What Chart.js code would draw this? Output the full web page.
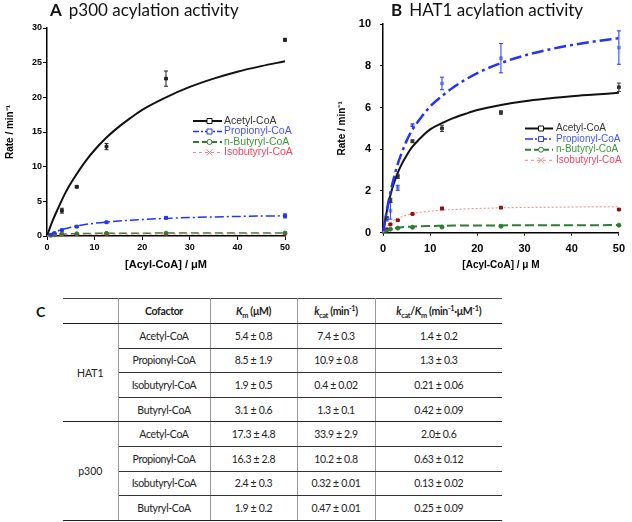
<!DOCTYPE html>
<html>
<head>
<meta charset="utf-8">
<script src="https://cdn.jsdelivr.net/npm/chart.js@4.4.0/dist/chart.umd.min.js"></script>
<style>
  html, body { margin: 0; padding: 0; background: #fff; }
  #page { position: relative; width: 632px; height: 522px; overflow: hidden; background: #fff; }
  canvas { position: absolute; top: 0; }
  .ptitle { position: absolute; top: 0; font-family: Lato, "Open Sans", sans-serif; font-size: 17px; line-height: 20px; color: #111; white-space: nowrap; }
  .ptitle b { margin-right: 7px; }
  #labelC { position: absolute; left: 36px; top: 303px; font-family: Lato, sans-serif; font-weight: bold; font-size: 14px; color: #111; }
  #tbl { position: absolute; left: 63px; top: 298px; width: 439px; border-collapse: collapse; font-family: Lato, "Open Sans", sans-serif; font-size: 10.5px; letter-spacing: -0.35px; color: #222; table-layout: fixed; }
  #tbl td, #tbl th { text-align: center; padding: 0; border-right: 1px solid #999; white-space: nowrap; }
  #tbl td:last-child, #tbl th:last-child { border-right: none; }
  #tbl th { height: 24px; font-weight: bold; border-top: 1.5px solid #444; border-bottom: 1.5px solid #222; }
  #tbl td { height: 23.6px; border-bottom: 1px solid #333; }
  #tbl td.grp { border-bottom: 1.5px solid #222; letter-spacing: 0; }
  #tbl tr.glast td { border-bottom: 1.5px solid #222; }
  sub, sup { font-size: 70%; line-height: 0; }
</style>
</head>
<body>
<div id="page">
  <canvas id="chartA" width="316" height="290" style="left:0"></canvas>
  <canvas id="chartB" width="316" height="290" style="left:316px"></canvas>
  <div class="ptitle" style="left:50px"><b>A</b>p300 acylation activity</div>
  <div class="ptitle" style="left:391px"><b>B</b>HAT1 acylation activity</div>
  <div id="labelC">C</div>
  <table id="tbl"></table>
</div>
<script>
// ---------------- data ----------------
const seriesNames = ['Acetyl-CoA', 'Propionyl-CoA', 'n-Butyryl-CoA', 'Isobutyryl-CoA'];
const xTicks = [0, 10, 20, 30, 40, 50];
const yTicksA = [0, 5, 10, 15, 20, 25, 30];
const yTicksB = [0, 2, 4, 6, 8, 10];

// measured concentrations (µM)
const conc = [0.78, 1.56, 3.125, 6.25, 12.5, 25, 50];
// concentrations along the fitted curves (µM)
const fitConc = [0, 1, 2, 3, 4, 5, 6, 8, 10, 12.5, 15, 17.5, 20, 25, 30, 35, 40, 45, 50];

// Panel A: p300
const p300AcetylRate      = [null, null, 3.65, 7.1, 12.9, 22.7, 28.3];
const p300AcetylErr       = [0, 0, 0.35, 0.15, 0.45, 1.1, 0.2];
const p300PropionylRate   = [0.15, 0.4, 0.85, 1.35, 1.98, 2.62, 2.9];
const p300PropionylErr    = [0.05, 0.05, 0.1, 0.1, 0.12, 0.15, 0.3];
const p300ButyrylRate     = [0.1, 0.18, 0.28, 0.32, 0.38, 0.4, 0.42];
const p300ButyrylErr      = [0.02, 0.02, 0.03, 0.03, 0.03, 0.03, 0.05];
const p300IsobutyrylRate  = [0.08, 0.14, 0.2, 0.24, 0.26, 0.28, 0.3];
const p300IsobutyrylErr   = [0.02, 0.02, 0.02, 0.02, 0.02, 0.02, 0.02];

const p300AcetylFit     = [0, 1.9, 3.5, 5.0, 6.4, 7.6, 8.7, 10.7, 12.4, 14.2, 15.7, 17.0, 18.2, 20.0, 21.5, 22.7, 23.7, 24.5, 25.2];
const p300PropionylFit  = [0, 0.36, 0.65, 0.89, 1.09, 1.26, 1.41, 1.66, 1.84, 2.02, 2.16, 2.28, 2.38, 2.54, 2.66, 2.75, 2.82, 2.88, 2.91];
const p300ButyrylFit    = [0, 0.15, 0.23, 0.27, 0.3, 0.32, 0.34, 0.36, 0.38, 0.39, 0.4, 0.41, 0.41, 0.42, 0.42, 0.43, 0.43, 0.43, 0.43];
const p300IsobutyrylFit = [0, 0.09, 0.15, 0.18, 0.2, 0.22, 0.23, 0.25, 0.26, 0.27, 0.28, 0.28, 0.29, 0.29, 0.3, 0.3, 0.3, 0.31, 0.31];

// Panel B: HAT1
const hat1AcetylRate     = [0.7, 1.55, 2.7, 4.38, 5.0, 5.76, 6.97];
const hat1AcetylErr      = [0.05, 0.1, 0.1, 0.06, 0.15, 0.08, 0.2];
const hat1PropionylRate  = [0.66, 1.05, 2.15, 5.15, 7.15, 8.36, 8.87];
const hat1PropionylErr   = [0.1, 0.4, 0.12, 0.06, 0.3, 0.7, 0.8];
const hat1ButyrylRate    = [0.12, 0.17, 0.22, 0.26, 0.27, 0.31, 0.36];
const hat1ButyrylErr     = [0.02, 0.02, 0.02, 0.02, 0.02, 0.02, 0.02];
const hat1IsobutyrylRate = [0.16, 0.4, 0.6, 0.9, 1.16, 1.2, 1.11];
const hat1IsobutyrylErr  = [0.03, 0.03, 0.03, 0.03, 0.06, 0.03, 0.03];

const hat1AcetylFit     = [0, 1.25, 2.15, 2.8, 3.3, 3.7, 4.05, 4.55, 4.95, 5.25, 5.5, 5.7, 5.88, 6.12, 6.3, 6.43, 6.54, 6.62, 6.7];
const hat1PropionylFit  = [0, 1.3, 2.35, 3.2, 3.85, 4.4, 4.85, 5.5, 6.05, 6.55, 6.98, 7.34, 7.65, 8.13, 8.49, 8.77, 8.99, 9.17, 9.32];
const hat1ButyrylFit    = [0, 0.13, 0.19, 0.23, 0.26, 0.28, 0.29, 0.31, 0.32, 0.33, 0.34, 0.34, 0.35, 0.35, 0.36, 0.36, 0.36, 0.36, 0.37];
const hat1IsobutyrylFit = [0, 0.35, 0.55, 0.68, 0.77, 0.84, 0.9, 0.98, 1.03, 1.08, 1.11, 1.14, 1.16, 1.19, 1.21, 1.22, 1.23, 1.24, 1.24];

// Panel C: kinetic table
const enzymes   = ['HAT1', 'p300'];
const cofactors = ['Acetyl-CoA', 'Propionyl-CoA', 'Isobutyryl-CoA', 'Butyryl-CoA'];
const kmHAT1    = ['5.4 ± 0.8', '8.5 ± 1.9', '1.9 ± 0.5', '3.1 ± 0.6'];
const kcatHAT1  = ['7.4 ± 0.3', '10.9 ± 0.8', '0.4 ± 0.02', '1.3 ± 0.1'];
const effHAT1   = ['1.4 ± 0.2', '1.3 ± 0.3', '0.21 ± 0.06', '0.42 ± 0.09'];
const kmP300    = ['17.3 ± 4.8', '16.3 ± 2.8', '2.4 ± 0.3', '1.9 ± 0.2'];
const kcatP300  = ['33.9 ± 2.9', '10.2 ± 0.8', '0.32 ± 0.01', '0.47 ± 0.01'];
const effP300   = ['2.0± 0.6', '0.63 ± 0.12', '0.13 ± 0.02', '0.25 ± 0.09'];

// ---------------- helpers ----------------
function pts(xs, ys) {
  const out = [];
  xs.forEach((x, i) => { if (ys[i] !== null) out.push({ x: x, y: ys[i] }); });
  return out;
}
function errs(ys, es) {
  const out = [];
  ys.forEach((y, i) => { if (y !== null) out.push(es[i]); });
  return out;
}

const errorBarPlugin = {
  id: 'errorBars',
  afterDatasetsDraw(chart) {
    const ctx = chart.ctx, xs = chart.scales.x, ys = chart.scales.y;
    chart.data.datasets.forEach(ds => {
      if (!ds.errors) return;
      ctx.save();
      ctx.strokeStyle = ds.errorColor;
      ctx.lineWidth = ds.errorWidth || 1;
      ds.data.forEach((p, i) => {
        const e = ds.errors[i];
        if (!e) return;
        const px = xs.getPixelForValue(p.x);
        const t = ys.getPixelForValue(p.y + e), b = ys.getPixelForValue(p.y - e);
        ctx.beginPath();
        ctx.moveTo(px, t); ctx.lineTo(px, b);
        ctx.moveTo(px - 2, t); ctx.lineTo(px + 2, t);
        ctx.moveTo(px - 2, b); ctx.lineTo(px + 2, b);
        ctx.stroke();
      });
      ctx.restore();
    });
  }
};

function drawMarker(ctx, kind, x, y, color) {
  ctx.save();
  ctx.strokeStyle = color; ctx.lineWidth = 1; ctx.setLineDash([]);
  ctx.fillStyle = '#fff';
  ctx.beginPath();
  if (kind === 'rect') { ctx.rect(x - 2.5, y - 2.5, 5, 5); ctx.fill(); ctx.stroke(); }
  else if (kind === 'circle') { ctx.arc(x, y, 2.5, 0, Math.PI * 2); ctx.fill(); ctx.stroke(); }
  else if (kind === 'cross') { ctx.moveTo(x - 3, y - 3); ctx.lineTo(x + 3, y + 3); ctx.moveTo(x + 3, y - 3); ctx.lineTo(x - 3, y + 3); ctx.stroke(); }
  ctx.restore();
}

const legendPlugin = {
  id: 'panelLegend',
  afterDraw(chart, args, o) {
    const ctx = chart.ctx;
    ctx.save();
    o.items.forEach((it, i) => {
      const y = o.y0 + i * o.dy;
      ctx.strokeStyle = it.color; ctx.lineWidth = it.width; ctx.setLineDash(it.dash);
      ctx.beginPath(); ctx.moveTo(o.x0, y); ctx.lineTo(o.x1, y); ctx.stroke();
      ctx.setLineDash([]);
      drawMarker(ctx, it.marker, (o.x0 + o.x1) / 2 + 2, y, it.color);
      ctx.fillStyle = it.text; ctx.font = o.font; ctx.textBaseline = 'middle'; ctx.textAlign = 'left';
      ctx.fillText(seriesNames[i], o.tx, y);
    });
    ctx.restore();
  }
};

function pointSet(xs, ys, es, color, style, errColor) {
  return {
    data: pts(xs, ys), errors: errs(ys, es), errorColor: errColor || color,
    showLine: false, pointStyle: style, pointRadius: 2, pointBorderWidth: 1,
    pointBorderColor: color, pointBackgroundColor: color, clip: false
  };
}
function fitSet(ys, color, width, dash) {
  return {
    data: pts(fitConc, ys), showLine: true, pointRadius: 0, borderColor: color,
    borderWidth: width, borderDash: dash, tension: 0.4, cubicInterpolationMode: 'monotone', fill: false, clip: false
  };
}

function makeChart(id, cfg) {
  const tickFontX = { family: '"Liberation Sans", Arial, sans-serif', size: cfg.tickSize, weight: 'bold' };
  return new Chart(document.getElementById(id), {
    type: 'scatter',
    data: { datasets: cfg.datasets },
    plugins: [errorBarPlugin, legendPlugin],
    options: {
      responsive: false, animation: false, devicePixelRatio: 1,
      layout: { padding: cfg.padding },
      plugins: { legend: { display: false }, tooltip: { enabled: false }, panelLegend: cfg.legend },
      scales: {
        x: {
          type: 'linear', min: 0, max: 50,
          afterBuildTicks: s => { s.ticks = xTicks.map(v => ({ value: v })); },
          afterFit: s => { s.height = cfg.xHeight; },
          ticks: { font: tickFontX, color: '#000', padding: cfg.xPad, maxRotation: 0 },
          grid: { drawOnChartArea: false, drawTicks: true, tickLength: cfg.tickLen, color: '#000', lineWidth: 1 },
          border: { display: true, color: '#000', width: 1.5 },
          title: { display: true, text: cfg.xTitle, color: '#000',
                   font: { family: '"Liberation Sans", Arial, sans-serif', size: cfg.xTitleSize, weight: 'bold' },
                   padding: { top: 0, bottom: cfg.xTitlePad } }
        },
        y: {
          type: 'linear', min: cfg.yTicks[0], max: cfg.yTicks[cfg.yTicks.length - 1],
          afterBuildTicks: s => { s.ticks = cfg.yTicks.map(v => ({ value: v })); },
          afterFit: s => { s.width = cfg.yWidth; },
          ticks: { font: tickFontX, color: '#000', padding: cfg.yPad },
          grid: { drawOnChartArea: false, drawTicks: true, tickLength: cfg.tickLen, color: '#000', lineWidth: 1 },
          border: { display: true, color: '#000', width: 1.5 },
          title: { display: true, text: 'Rate / min⁻¹', color: '#000',
                   font: { family: '"Liberation Sans", Arial, sans-serif', size: 10, weight: 'bold' },
                   padding: { top: cfg.yTitlePad, bottom: 0 } }
        }
      }
    }
  });
}

const BLACK = '#111', BLUE = '#2233ff', GREEN = '#2e7d32', RED = '#ff8080';

makeChart('chartA', {
  padding: { top: 28, right: 31, left: 0, bottom: 0 },
  xHeight: 54, yWidth: 47, tickLen: 4, tickSize: 9, xPad: 2, yPad: 1,
  xTitle: '[Acyl-CoA] / μM', xTitleSize: 11, xTitlePad: 18, yTitlePad: 4,
  yTicks: yTicksA,
  datasets: [
    fitSet(p300IsobutyrylFit, RED, 1, [3, 3]),
    fitSet(p300ButyrylFit, GREEN, 1.5, [8, 4]),
    fitSet(p300PropionylFit, BLUE, 1.5, [9, 3, 2, 3]),
    fitSet(p300AcetylFit, BLACK, 2, []),
    pointSet(conc, p300IsobutyrylRate, p300IsobutyrylErr, '#c0392b', 'crossRot'),
    pointSet(conc, p300ButyrylRate, p300ButyrylErr, GREEN, 'circle'),
    pointSet(conc, p300PropionylRate, p300PropionylErr, BLUE, 'rect'),
    pointSet(conc, p300AcetylRate, p300AcetylErr, '#222', 'rect')
  ],
  legend: {
    x0: 193, x1: 222, tx: 224, y0: 121, dy: 10.5, font: '10.5px "Liberation Sans", Arial, sans-serif',
    items: [
      { color: BLACK, width: 2, dash: [], marker: 'rect', text: '#333' },
      { color: BLUE, width: 1.5, dash: [6, 2, 2, 2], marker: 'rect', text: '#4455ff' },
      { color: GREEN, width: 2, dash: [6, 3], marker: 'circle', text: '#3a9a3a' },
      { color: RED, width: 1, dash: [3, 3], marker: 'cross', text: '#ff4060' }
    ]
  }
});

makeChart('chartB', {
  padding: { top: 24, right: 4.5, left: 0, bottom: 0 },
  xHeight: 57.3, yWidth: 67, tickLen: 3, tickSize: 11, xPad: 7, yPad: 9,
  xTitle: '[Acyl-CoA] / μ M', xTitleSize: 10, xTitlePad: 19, yTitlePad: 20,
  yTicks: yTicksB,
  datasets: [
    fitSet(hat1IsobutyrylFit, RED, 1, [2, 2]),
    fitSet(hat1ButyrylFit, GREEN, 2, [9, 4]),
    fitSet(hat1PropionylFit, BLUE, 2.5, [12, 4, 3, 4]),
    fitSet(hat1AcetylFit, BLACK, 2, []),
    pointSet(conc, hat1IsobutyrylRate, hat1IsobutyrylErr, '#8b1010', 'rect'),
    pointSet(conc, hat1ButyrylRate, hat1ButyrylErr, GREEN, 'circle'),
    pointSet(conc, hat1PropionylRate, hat1PropionylErr, '#7f9bff', 'rect', BLUE),
    pointSet(conc, hat1AcetylRate, hat1AcetylErr, '#333', 'rect')
  ],
  legend: {
    x0: 209, x1: 237, tx: 240, y0: 128.5, dy: 10.6, font: '10px "Liberation Sans", Arial, sans-serif',
    items: [
      { color: BLACK, width: 2, dash: [], marker: 'rect', text: '#333' },
      { color: BLUE, width: 1.5, dash: [8, 2, 2, 2], marker: 'rect', text: '#4455ff' },
      { color: GREEN, width: 2, dash: [6, 3], marker: 'circle', text: '#3a9a3a' },
      { color: RED, width: 1, dash: [3, 3], marker: 'cross', text: '#ff4060' }
    ]
  }
});

// ---------------- table ----------------
(function buildTable() {
  const tbl = document.getElementById('tbl');
  const widths = [55, 92, 87, 78, 127];
  let html = '<colgroup>' + widths.map(w => '<col style="width:' + w + 'px">').join('') + '</colgroup>';
  html += '<tr><th></th><th>Cofactor</th><th><i>K</i><sub>m</sub> (μM)</th>' +
          '<th><i>k</i><sub>cat</sub> (min<sup>-1</sup>)</th>' +
          '<th><i>k</i><sub>cat</sub>/<i>K</i><sub>m</sub> (min<sup>-1</sup>·μM<sup>-1</sup>)</th></tr>';
  const groups = [[kmHAT1, kcatHAT1, effHAT1], [kmP300, kcatP300, effP300]];
  enzymes.forEach((enz, g) => {
    const [km, kcat, eff] = groups[g];
    cofactors.forEach((cf, i) => {
      const last = i === cofactors.length - 1;
      html += '<tr' + (last ? ' class="glast"' : '') + '>';
      if (i === 0) html += '<td class="grp" rowspan="' + cofactors.length + '">' + enz + '</td>';
      html += '<td>' + cf + '</td><td>' + km[i] + '</td><td>' + kcat[i] + '</td><td>' + eff[i] + '</td></tr>';
    });
  });
  tbl.innerHTML = html;
})();
</script>
</body>
</html>
